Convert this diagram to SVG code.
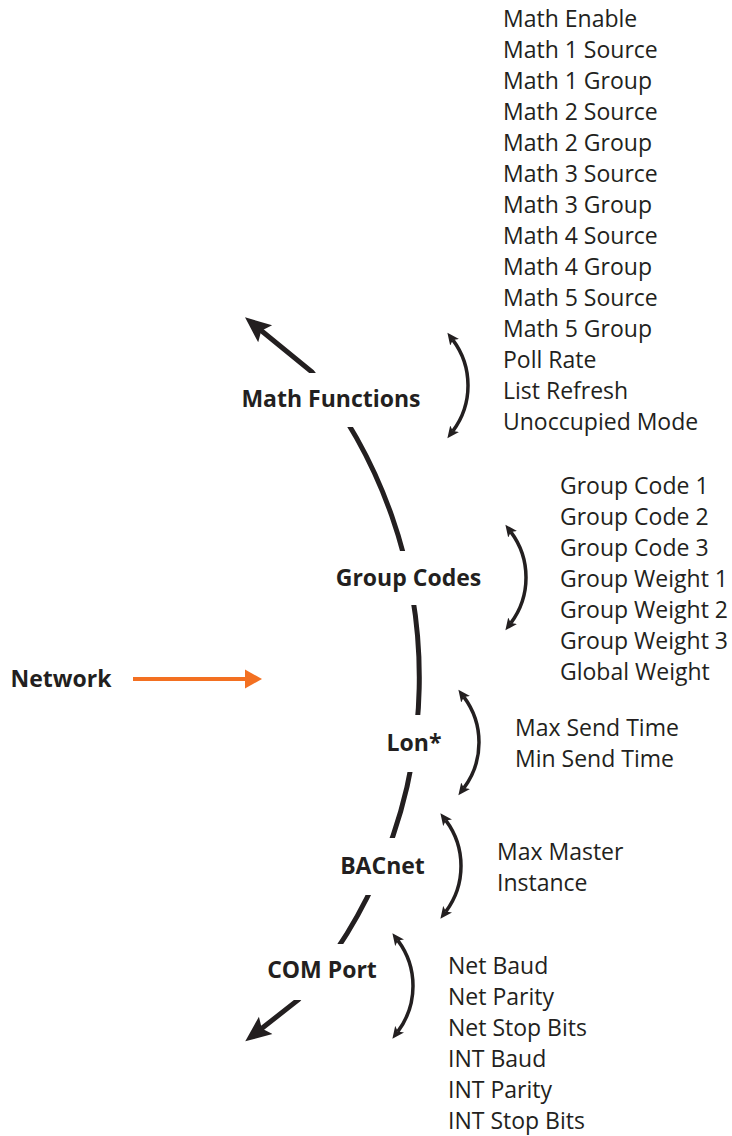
<svg xmlns="http://www.w3.org/2000/svg" width="732" height="1136" viewBox="0 0 732 1136">
<style>
.t{font-family:"Open Sans","Liberation Sans",sans-serif;font-size:23px;fill:#231f20}
.b{font-family:"Open Sans","Liberation Sans",sans-serif;font-size:23px;font-weight:bold;fill:#231f20;text-anchor:middle}
.main{fill:none;stroke:#231f20;stroke-width:5}
.dbl{fill:none;stroke:#231f20;stroke-width:3.5}
</style>
<defs>
<marker id="big" markerUnits="userSpaceOnUse" viewBox="0 -12 27 24" markerWidth="27" markerHeight="24" refX="6" refY="0" orient="auto-start-reverse">
<path d="M0,-11 L26,0 L0,11 L5,0 Z" fill="#231f20"/>
</marker>
<marker id="sm" markerUnits="userSpaceOnUse" viewBox="0 -6 13 12" markerWidth="13" markerHeight="12" refX="3" refY="0" orient="auto-start-reverse">
<path d="M0,-5.5 L12,0 L0,5.5 L3,0 Z" fill="#231f20"/>
</marker>
<marker id="org" markerUnits="userSpaceOnUse" viewBox="0 -10 18 20" markerWidth="18" markerHeight="20" refX="2" refY="0" orient="auto">
<path d="M0,-9.5 L17,0 L0,9.5 Z" fill="#f37021"/>
</marker>
<mask id="gaps" maskUnits="userSpaceOnUse" x="0" y="0" width="732" height="1136">
<rect x="0" y="0" width="732" height="1136" fill="#fff"/>
<rect x="280" y="373" width="100" height="54" fill="#000"/>
<rect x="380" y="551" width="60" height="54" fill="#000"/>
<rect x="390" y="715" width="50" height="57" fill="#000"/>
<rect x="350" y="838" width="70" height="57" fill="#000"/>
<rect x="280" y="944" width="100" height="56" fill="#000"/>
</mask>
</defs>
<g id="connectors">
<path class="main" mask="url(#gaps)" d="M260.5,330 L312,372 A489,489 0 0 1 298,1000 L261,1029" marker-start="url(#big)" marker-end="url(#big)"/>
<path class="dbl" d="M452.8,339.9 A76,76 0 0 1 452.8,431.1" marker-start="url(#sm)" marker-end="url(#sm)"/>
<path class="dbl" d="M510.8,531.9 A76,76 0 0 1 510.8,623.1" marker-start="url(#sm)" marker-end="url(#sm)"/>
<path class="dbl" d="M463.8,696.9 A76,76 0 0 1 463.8,788.1" marker-start="url(#sm)" marker-end="url(#sm)"/>
<path class="dbl" d="M445.8,820.4 A76,76 0 0 1 445.8,911.6" marker-start="url(#sm)" marker-end="url(#sm)"/>
<path class="dbl" d="M397.8,940.4 A76,76 0 0 1 397.8,1031.6" marker-start="url(#sm)" marker-end="url(#sm)"/>
<path d="M133,679 L247,679" stroke="#f37021" stroke-width="4" fill="none" marker-end="url(#org)"/>
</g>
<g id="network"><text class="b" x="61" y="687">Network</text></g>
<g id="math-functions">
<text class="b" x="331" y="407">Math Functions</text>
<text class="t" x="503" y="26.5">Math Enable</text>
<text class="t" x="503" y="57.5">Math 1 Source</text>
<text class="t" x="503" y="88.5">Math 1 Group</text>
<text class="t" x="503" y="119.5">Math 2 Source</text>
<text class="t" x="503" y="150.5">Math 2 Group</text>
<text class="t" x="503" y="181.5">Math 3 Source</text>
<text class="t" x="503" y="212.5">Math 3 Group</text>
<text class="t" x="503" y="243.5">Math 4 Source</text>
<text class="t" x="503" y="274.5">Math 4 Group</text>
<text class="t" x="503" y="305.5">Math 5 Source</text>
<text class="t" x="503" y="336.5">Math 5 Group</text>
<text class="t" x="503" y="367.5">Poll Rate</text>
<text class="t" x="503" y="398.5">List Refresh</text>
<text class="t" x="503" y="429.5">Unoccupied Mode</text>
</g>
<g id="group-codes">
<text class="b" x="408.5" y="586">Group Codes</text>
<text class="t" x="560" y="493.5">Group Code 1</text>
<text class="t" x="560" y="524.5">Group Code 2</text>
<text class="t" x="560" y="555.5">Group Code 3</text>
<text class="t" x="560" y="586.5">Group Weight 1</text>
<text class="t" x="560" y="617.5">Group Weight 2</text>
<text class="t" x="560" y="648.5">Group Weight 3</text>
<text class="t" x="560" y="679.5">Global Weight</text>
</g>
<g id="lon">
<text class="b" x="414" y="751">Lon*</text>
<text class="t" x="515" y="735.5">Max Send Time</text>
<text class="t" x="515" y="766.5">Min Send Time</text>
</g>
<g id="bacnet">
<text class="b" x="382.5" y="874">BACnet</text>
<text class="t" x="497" y="859.5">Max Master</text>
<text class="t" x="497" y="890.5">Instance</text>
</g>
<g id="com-port">
<text class="b" x="322" y="978">COM Port</text>
<text class="t" x="448" y="973.5">Net Baud</text>
<text class="t" x="448" y="1004.5">Net Parity</text>
<text class="t" x="448" y="1035.5">Net Stop Bits</text>
<text class="t" x="448" y="1066.5">INT Baud</text>
<text class="t" x="448" y="1097.5">INT Parity</text>
<text class="t" x="448" y="1128.5">INT Stop Bits</text>
</g>
</svg>
